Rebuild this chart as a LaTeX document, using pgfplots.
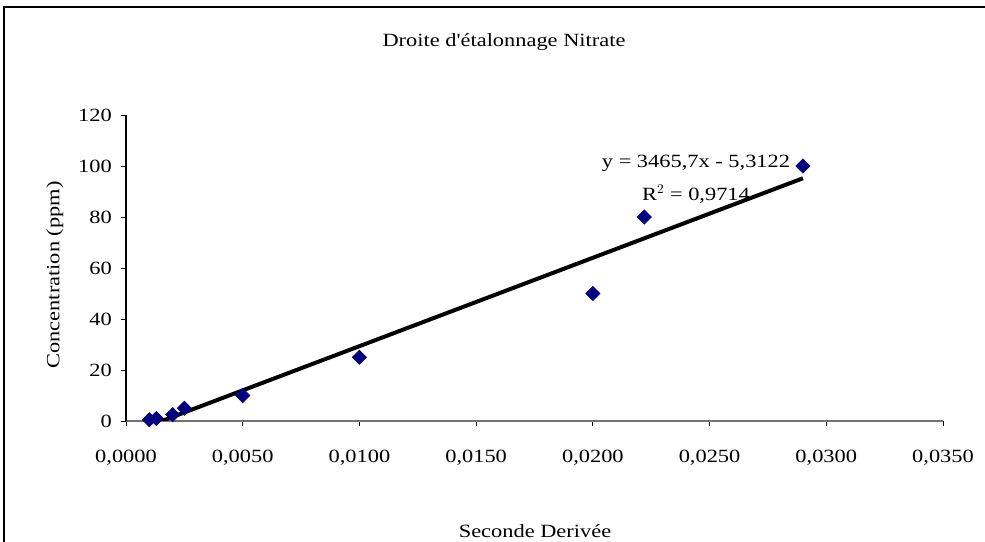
\documentclass[border=0pt]{standalone}
\usepackage{fontspec}
\setmainfont{Liberation Serif}[FakeStretch=1.2, Ligatures=TeXOff]
\usepackage{pgfplots}
\pgfplotsset{compat=1.18}
\definecolor{navyblue}{HTML}{000080}
\newcommand{\bigfont}{\fontsize{14pt}{16pt}\selectfont}
\begin{document}
\bigfont
\begin{tikzpicture}[x=0.75pt,y=0.75pt]
\useasboundingbox (0,0) rectangle (985,542);
\draw[line width=1.2pt] (4,0) -- (4,535) -- (985,535);
\begin{axis}[
  at={(94.5pt,90.75pt)}, anchor=origin,
  scale only axis,
  width=612.75pt, height=229.5pt,
  xmin=0, xmax=0.035, ymin=0, ymax=120,
  axis x line*=bottom, axis y line*=left,
  x axis line style={-, draw=gray!90!black, line width=1pt},
  y axis line style={-, draw=black, line width=0.8pt},
  xtick={0,0.005,0.01,0.015,0.02,0.025,0.03,0.035},
  ytick={0,20,40,60,80,100,120},
  scaled x ticks=false,
  tick align=outside,
  major tick length=3.75pt,
  tick style={black, line width=0.6pt},
  tick label style={font=\bigfont},
  x tick label style={/pgf/number format/fixed, /pgf/number format/fixed zerofill, /pgf/number format/precision=4, /pgf/number format/use comma, /pgf/number format/1000 sep={}, yshift=-13.5pt},
  /pgf/number format/assume math mode=true,
  y tick label style={xshift=-2pt},
  clip=true,
]
\addplot[black, line width=3pt] coordinates {(0.001,-1.8465) (0.029,95.1931)};
\addplot[only marks, mark=square*, mark size=3.8pt, mark options={rotate=45, fill=navyblue, draw=navyblue}, clip marker paths=false] coordinates {
(0.0010,0.5)
(0.0013,1)
(0.0020,2.5)
(0.0025,5)
(0.0050,10)
(0.0100,25)
(0.0200,50)
(0.0222,80)
(0.0290,100)
};
\end{axis}
\node at (504,500) {Droite d'étalonnage Nitrate};
\node at (535,11) {Seconde Derivée};
\node[rotate=90] at (55,267) {Concentration (ppm)};
\node at (696,379) {y = 3465,7x - 5,3122};
\node at (696,348) {R$^{2}$ = 0,9714};
\end{tikzpicture}
\end{document}
